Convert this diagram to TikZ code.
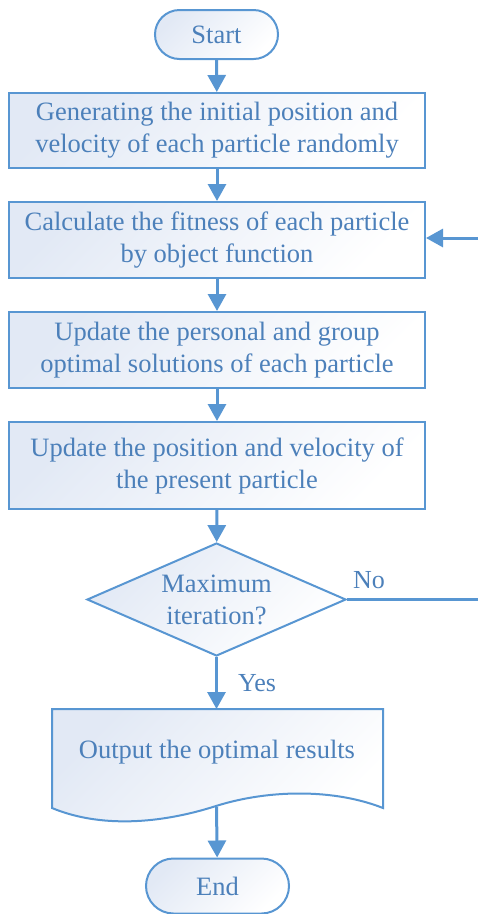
\documentclass[tikz,border=0pt]{standalone}
\usepackage{fontspec}
\setmainfont{Liberation Serif}
\usetikzlibrary{arrows.meta,shapes.geometric,shapes.misc}
\definecolor{linec}{RGB}{88,150,210}
\definecolor{textc}{RGB}{76,128,186}
\definecolor{fillc}{RGB}{226,233,245}
\tikzset{
  shadefill/.style={top color=fillc, bottom color=white, shading angle=45},
  base/.style={draw=linec, line width=2pt, shadefill, text=textc, align=center, inner sep=0pt,
    font=\fontsize{26.5}{32}\selectfont},
  procbox/.style={base, rectangle, minimum width=416pt},
  term/.style={base, rounded rectangle},
  decision/.style={base, diamond, minimum width=259pt, minimum height=113pt},
  txt/.style={text=textc, align=center, font=\fontsize{26.5}{32}\selectfont},
  arr/.style={draw=linec, line width=3pt, -{Triangle[width=18pt,length=17pt]}},
  lbl/.style={text=textc, font=\fontsize{26}{28}\selectfont}
}
\begin{document}
\begin{tikzpicture}[x=1pt,y=-1pt]
\useasboundingbox (0,0) rectangle (478,914);
\node[term, minimum width=123pt, minimum height=49pt] (start) at (216.5,34.5) {Start};
\node[procbox, minimum height=75pt] (b1) at (217,130.5) {Generating the initial position and\\velocity of each particle randomly};
\node[procbox, minimum height=76pt] (b2) at (217,240) {Calculate the fitness of each particle\\by object function};
\node[procbox, minimum height=76pt] (b3) at (217,350) {Update the personal and group\\optimal solutions of each particle};
\node[procbox, minimum height=87pt] (b4) at (217,465.5) {Update the position and velocity of\\the present particle};
\node[decision] (dec) at (216.5,599.5) {};
\node[txt] (dectext) at (216.5,599.5) {Maximum\\iteration?};
% document shape
\path[draw=linec, line width=2pt, shadefill] (52,709) -- (383,709) -- (383,808)
  .. controls (335,789) and (270,789) .. (216,806)
  .. controls (160,824) and (100,828) .. (52,808) -- cycle;
\node[txt] (out) at (217,752) {Output the optimal results};
\coordinate (outtop) at (216.5,709);
\coordinate (outbot) at (216.5,807);
\node[term, minimum width=143pt, minimum height=55pt] (end) at (217.5,886) {End};
\coordinate (noend) at (478,599.5);
\coordinate (loopin) at (478,238);
\draw[arr] (start) -- (b1);
\draw[arr] (b1) -- (b2);
\draw[arr] (b2) -- (b3);
\draw[arr] (b3) -- (b4);
\draw[arr] (b4) -- (dec);
\draw[arr] (dec) -- (outtop);
\draw[arr] (outbot) -- (end);
\draw[draw=linec, line width=2.5pt] (dec.east) -- (noend);
\draw[arr] (loopin) -- (b2.east |- loopin);
\node[lbl] (no) at (369,580) {No};
\node[lbl] (yes) at (257,683) {Yes};
\end{tikzpicture}
\end{document}
